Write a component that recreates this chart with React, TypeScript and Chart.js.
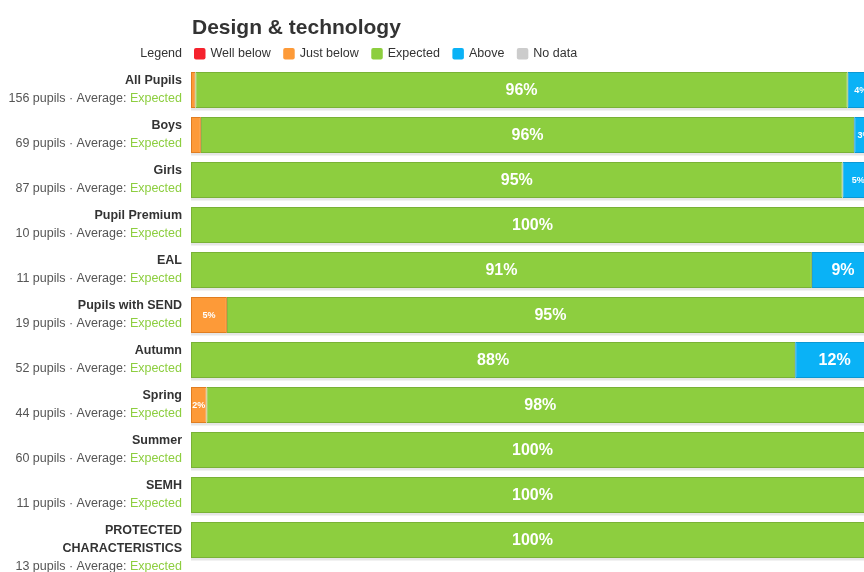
import React, { useEffect, useRef } from "react";
import { Chart, registerables } from "chart.js";

Chart.register(...registerables);

const chartTitle = "Design & technology";
const legendPrefix = "Legend";

const categories = [
  "All Pupils",
  "Boys",
  "Girls",
  "Pupil Premium",
  "EAL",
  "Pupils with SEND",
  "Autumn",
  "Spring",
  "Summer",
  "SEMH",
  "PROTECTED CHARACTERISTICS",
];
const pupilCounts = [156, 69, 87, 10, 11, 19, 52, 44, 60, 11, 13];
const averages = ["Expected", "Expected", "Expected", "Expected", "Expected", "Expected", "Expected", "Expected", "Expected", "Expected", "Expected"];

const seriesNames = ["Well below", "Just below", "Expected", "Above", "No data"];
const wellBelow = [0, 0, 0, 0, 0, 0, 0, 0, 0, 0, 0];
const justBelow = [0.64, 1.45, 0, 0, 0, 5.26, 0, 2.27, 0, 0, 0];
const expected = [95.51, 95.65, 95.4, 100, 90.91, 94.74, 88.46, 97.73, 100, 100, 100];
const above = [3.85, 2.9, 4.6, 0, 9.09, 0, 11.54, 0, 0, 0, 0];
const noData = [0, 0, 0, 0, 0, 0, 0, 0, 0, 0, 0];

const seriesColors = ["#f5222d", "#fd9a38", "#8dce3f", "#0ab2f6", "#cccccc"];
const seriesBorders = ["#d01a24", "#e07d20", "#79b235", "#0a98d4", "#b5b5b5"];
const averageColors: Record<string, string> = {
  "Well below": "#f5222d",
  "Just below": "#fd9a38",
  Expected: "#8dce3f",
  Above: "#0ab2f6",
  "No data": "#999999",
};

const FONT = "'Liberation Sans', Arial, Helvetica, sans-serif";
const LABEL_RIGHT = 182;

function wrapText(ctx: CanvasRenderingContext2D, text: string, maxW: number): string[] {
  const words = text.split(" ");
  const lines: string[] = [];
  let cur = "";
  for (const w of words) {
    const test = cur ? cur + " " + w : w;
    if (ctx.measureText(test).width > maxW && cur) {
      lines.push(cur);
      cur = w;
    } else {
      cur = test;
    }
  }
  if (cur) lines.push(cur);
  return lines;
}

const decorPlugin = {
  id: "decor",
  beforeDatasetsDraw(chart: any) {
    const { ctx, chartArea } = chart;
    const yScale = chart.scales.y;
    const step = yScale.getPixelForValue(1) - yScale.getPixelForValue(0);
    const thick = step * 0.8;
    ctx.save();
    ctx.fillStyle = "#e6e6e6";
    categories.forEach((_, i) => {
      const cy = yScale.getPixelForValue(i);
      ctx.fillRect(chartArea.left, cy + thick / 2, chartArea.right - chartArea.left, 2.5);
    });
    ctx.restore();
  },
  afterDatasetsDraw(chart: any) {
    const { ctx } = chart;
    ctx.save();
    ctx.fillStyle = "#ffffff";
    ctx.textAlign = "center";
    ctx.textBaseline = "middle";
    chart.data.datasets.forEach((ds: any, di: number) => {
      const meta = chart.getDatasetMeta(di);
      ds.data.forEach((v: number, i: number) => {
        if (!v) return;
        const el: any = meta.data[i];
        const x0 = Math.min(el.base, el.x);
        const x1 = Math.max(el.base, el.x);
        const w = x1 - x0;
        if (w < 12) return;
        ctx.font = w < 50 ? `bold 9px ${FONT}` : `bold 16px ${FONT}`;
        ctx.fillText(Math.round(v) + "%", (x0 + x1) / 2, el.y + 1);
      });
    });
    ctx.restore();
  },
  afterDraw(chart: any) {
    const { ctx, chartArea } = chart;
    const yScale = chart.scales.y;
    ctx.save();
    // Title
    ctx.fillStyle = "#333333";
    ctx.font = `bold 21px ${FONT}`;
    ctx.textAlign = "left";
    ctx.textBaseline = "alphabetic";
    ctx.fillText(chartTitle, chartArea.left + 1, 34);

    // Legend
    const ly = 54;
    ctx.font = `12.5px ${FONT}`;
    ctx.textBaseline = "middle";
    ctx.textAlign = "right";
    ctx.fillStyle = "#333333";
    ctx.fillText(legendPrefix, LABEL_RIGHT, ly);
    ctx.textAlign = "left";
    let x = chartArea.left + 3;
    seriesNames.forEach((name, k) => {
      ctx.fillStyle = seriesColors[k];
      ctx.beginPath();
      (ctx as any).roundRect(x, ly - 6, 11.5, 11.5, 2);
      ctx.fill();
      x += 11.5 + 5;
      ctx.fillStyle = "#333333";
      ctx.fillText(name, x, ly);
      x += ctx.measureText(name).width + 12.5;
    });

    // Category labels
    categories.forEach((cat, i) => {
      const cy = yScale.getPixelForValue(i);
      ctx.font = `bold 12.5px ${FONT}`;
      const lines = wrapText(ctx, cat, 165);
      let y = cy - 9;
      ctx.textAlign = "right";
      ctx.fillStyle = "#333333";
      lines.forEach((ln) => {
        ctx.fillText(ln, LABEL_RIGHT, y);
        y += 18;
      });
      ctx.font = `12.5px ${FONT}`;
      const avg = averages[i];
      const wAvg = ctx.measureText(avg).width;
      ctx.fillStyle = averageColors[avg] || "#8dce3f";
      ctx.fillText(avg, LABEL_RIGHT, y);
      ctx.fillStyle = "#555555";
      ctx.fillText(`${pupilCounts[i]} pupils \u00b7 Average: `, LABEL_RIGHT - wAvg, y);
    });
    ctx.restore();
  },
};

export default function App() {
  const canvasRef = useRef<HTMLCanvasElement | null>(null);

  useEffect(() => {
    const canvas = canvasRef.current;
    if (!canvas) return;
    const seriesData = [wellBelow, justBelow, expected, above, noData];
    const chart = new Chart(canvas, {
      type: "bar",
      data: {
        labels: categories,
        datasets: seriesNames.map((name, k) => ({
          label: name,
          data: seriesData[k],
          backgroundColor: seriesColors[k],
          borderColor: seriesBorders[k],
          borderWidth: 1,
          borderSkipped: false,
          barPercentage: 1,
          categoryPercentage: 0.8,
        })),
      },
      options: {
        indexAxis: "y",
        responsive: false,
        animation: false,
        layout: { padding: { left: 191, right: 10, top: 67.5, bottom: 9.5 } },
        scales: {
          x: { stacked: true, min: 0, max: 100, display: false },
          y: { stacked: true, display: false },
        },
        plugins: {
          legend: { display: false },
          title: { display: false },
          tooltip: { enabled: false },
        },
      },
      plugins: [decorPlugin],
    });
    return () => chart.destroy();
  }, []);

  return (
    <div
      style={{
        position: "fixed",
        left: 0,
        top: 0,
        width: 864,
        height: 572,
        overflow: "hidden",
        background: "#ffffff",
      }}
    >
      <canvas ref={canvasRef} width={884} height={572} style={{ display: "block" }} />
    </div>
  );
}
